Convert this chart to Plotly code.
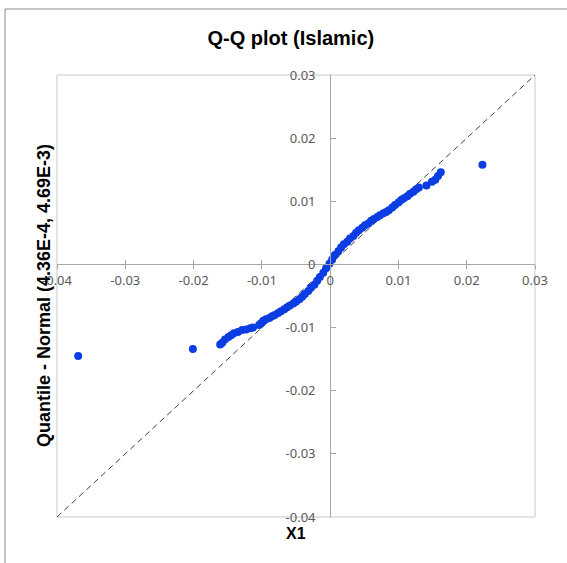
import plotly.graph_objects as go

x1_values = [-0.0369, -0.0201, -0.0161, -0.0158, -0.0154, -0.0149, -0.0145, -0.0141,
             -0.0135, -0.0129, -0.0123, -0.0117, -0.0113, -0.0104, -0.0101, -0.0098,
             -0.0094, -0.0089, -0.0085, -0.0081, -0.0076, -0.0072, -0.0067, -0.0063,
             -0.0059, -0.0054, -0.0050, -0.0045, -0.0041, -0.0037, -0.0032, -0.0028,
             -0.0023, -0.0019, -0.0015, -0.0010, -0.0006, -0.0001, 0.0003, 0.0007,
             0.0012, 0.0016, 0.0020, 0.0025, 0.0029, 0.0034, 0.0038, 0.0042,
             0.0047, 0.0051, 0.0056, 0.0060, 0.0064, 0.0069, 0.0073, 0.0078,
             0.0082, 0.0086, 0.0091, 0.0095, 0.0100, 0.0104, 0.0108, 0.0113,
             0.0117, 0.0122, 0.0126, 0.0130, 0.0141, 0.0149, 0.0154, 0.0158,
             0.0162, 0.0223]
normal_quantiles = [-0.0145, -0.0134, -0.0127, -0.0124, -0.0119, -0.0115, -0.0112, -0.0109,
                    -0.0107, -0.0104, -0.0103, -0.0101, -0.0100, -0.0096, -0.0093, -0.0089,
                    -0.0087, -0.0085, -0.0082, -0.0080, -0.0077, -0.0074, -0.0071, -0.0068,
                    -0.0065, -0.0062, -0.0059, -0.0055, -0.0051, -0.0047, -0.0042, -0.0037,
                    -0.0032, -0.0026, -0.0020, -0.0013, -0.0006, 0.0001, 0.0008, 0.0015,
                    0.0021, 0.0027, 0.0032, 0.0036, 0.0041, 0.0045, 0.0050, 0.0054,
                    0.0058, 0.0062, 0.0065, 0.0069, 0.0072, 0.0075, 0.0078, 0.0081,
                    0.0083, 0.0086, 0.0090, 0.0094, 0.0098, 0.0102, 0.0105, 0.0108,
                    0.0112, 0.0115, 0.0119, 0.0122, 0.0125, 0.0131, 0.0134, 0.0140,
                    0.0146, 0.0158]

diag_values = [-0.04, 0.03]
tick_values = [-0.04, -0.03, -0.02, -0.01, 0, 0.01, 0.02, 0.03]
tick_labels = ["-0.04", "-0.03", "-0.02", "-0.01", "0", "0.01", "0.02", "0.03"]

title_text = "Q-Q plot (Islamic)"
x_title = "X1"
y_title = "Quantile - Normal (4.36E-4, 4.69E-3)"

rng = [-0.04, 0.03]
zero_pos = (0 - rng[0]) / (rng[1] - rng[0])

tick_font = dict(family="Noto Sans, Open Sans, sans-serif", size=13, color="#595959")
axis_col = "#a6a6a6"

fig = go.Figure()
fig.add_trace(go.Scatter(x=diag_values, y=diag_values, mode="lines",
                         line=dict(color="#404040", width=1, dash="6px,4px"),
                         hoverinfo="skip", showlegend=False))
fig.add_trace(go.Scatter(x=x1_values, y=normal_quantiles, mode="markers",
                         marker=dict(color="#0b3de3", size=8, line=dict(width=0)),
                         showlegend=False))
# invisible trace to carry the crossing tick axis
fig.add_trace(go.Scatter(x=[0], y=[0], xaxis="x2", mode="markers",
                         marker=dict(opacity=0), hoverinfo="skip", showlegend=False))

fig.update_layout(
    width=567, height=563,
    margin=dict(l=57, r=32, t=75, b=46),
    paper_bgcolor="white", plot_bgcolor="white",
    title=dict(text=title_text, x=0.513, xanchor="center", y=1 - 38 / 563, yanchor="middle",
               font=dict(family="Liberation Sans, Arial, sans-serif", size=20, color="#000000",
                         weight="bold")),
    xaxis=dict(range=rng, tickvals=tick_values, ticktext=tick_labels,
               anchor="free", position=zero_pos, showgrid=False, zeroline=False,
               showline=True, linecolor=axis_col, linewidth=1,
               ticks="outside", ticklen=4, tickcolor=axis_col,
               tickfont=tick_font),
    xaxis2=dict(range=rng, tickvals=tick_values, overlaying="x", anchor="free",
                position=zero_pos, showgrid=False, zeroline=False, showline=False,
                ticks="inside", ticklen=4, tickcolor=axis_col, showticklabels=False),
    yaxis=dict(range=rng, tickvals=tick_values, ticktext=tick_labels,
               anchor="free", position=zero_pos, showgrid=False, zeroline=False,
               showline=True, linecolor=axis_col, linewidth=1,
               ticks="inside", ticklen=5, tickcolor=axis_col,
               ticklabelstandoff=12, tickfont=tick_font),
    shapes=[
        dict(type="rect", xref="paper", yref="paper", x0=0, y0=0, x1=1, y1=1,
             line=dict(color="#c8c8c8", width=1), layer="below"),
        dict(type="rect", xref="paper", yref="paper",
             x0=(5 - 57) / 478, y0=(517 - 580) / 442, x1=(580 - 57) / 478, y1=(517 - 9) / 442,
             line=dict(color="#8c8c8c", width=1), layer="below"),
    ],
    annotations=[
        dict(text=x_title, xref="paper", yref="paper", x=(296 - 57) / 478,
             y=(517 - 533) / 442, xanchor="center", yanchor="middle", showarrow=False,
             font=dict(family="Liberation Sans, Arial, sans-serif", size=16, color="#000000",
                       weight="bold")),
        dict(text=y_title, xref="paper", yref="paper", x=(44 - 57) / 478,
             y=(517 - 296) / 442, xanchor="center", yanchor="middle", textangle=-90,
             showarrow=False,
             font=dict(family="Liberation Sans, Arial, sans-serif", size=18, color="#000000",
                       weight="bold")),
    ],
)

fig.write_html("out.html", config={"displayModeBar": False},
               post_script="document.body.style.margin='0';")
